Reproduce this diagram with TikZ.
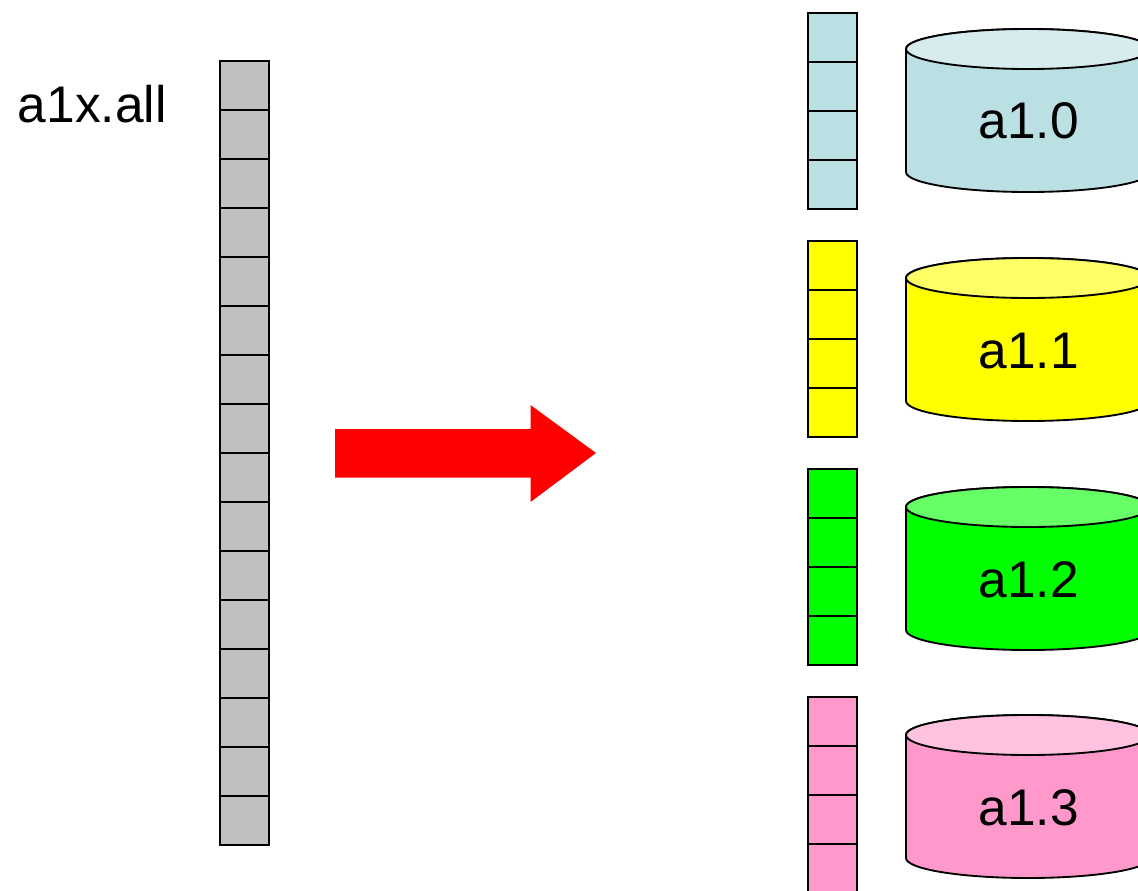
\documentclass[tikz,border=0pt]{standalone}
\usepackage{fontspec}
\setmainfont{Liberation Sans}
\definecolor{teal1}{HTML}{BBE0E3}
\definecolor{teal2}{HTML}{D6ECEE}
\definecolor{yel1}{HTML}{FFFF00}
\definecolor{yel2}{HTML}{FFFF66}
\definecolor{grn1}{HTML}{00FF00}
\definecolor{grn2}{HTML}{66FF66}
\definecolor{pnk1}{HTML}{FF99CC}
\definecolor{pnk2}{HTML}{FFC2E0}
\definecolor{cellgray}{HTML}{C0C0C0}
\tikzset{
  x=0.75pt,y=-0.75pt,
  outline/.style={draw=black,line width=1.4pt,line join=miter},
  celltext/.style={font=\fontsize{38.6pt}{46pt}\selectfont,inner sep=0pt,anchor=base},
}
\newcommand{\cellstack}[5]{% name, x left, y top, count, colour
  \foreach \i in {1,...,#4}{
    \path[outline,fill=#5] (#2,{#3+49*(\i-1)}) rectangle (#2+49,{#3+49*\i});
  }
  \coordinate (#1) at (#2,#3);
}
\newcommand{\drum}[5]{% name, y of top ellipse centre, body colour, top colour, label
  \path[outline,fill=#3] (906,#2) -- (906,#2+123) arc[start angle=180,end angle=0,x radius=122,y radius=20]
    -- (1150,#2) arc[start angle=0,end angle=-180,x radius=122,y radius=20] -- cycle;
  \path[outline,fill=#4] (1028,#2) ellipse[x radius=122,y radius=20];
  \node[celltext] (#1) at (1028.7,#2+90) {#5};
}
\begin{document}
\begin{tikzpicture}
\useasboundingbox (0,0) rectangle (1138,891);
\clip (0,0) rectangle (1138,891);
\node[celltext,anchor=base west] (allname) at (17.7,123) {a1x.all};
\cellstack{allcells}{219.7}{61.2}{16}{cellgray}
\path[fill=red] (335,429) -- (530.5,429) -- (530.5,405) -- (596,453) -- (530.5,502) -- (530.5,477.5) -- (335,477.5) -- cycle;
\cellstack{stackzero}{807.7}{12.6}{4}{teal1}
\cellstack{stackone}{807.7}{240.7}{4}{yel1}
\cellstack{stacktwo}{807.7}{468.7}{4}{grn1}
\cellstack{stackthree}{807.7}{696.7}{4}{pnk1}
\drum{drumzero}{49}{teal1}{teal2}{a1.0}
\drum{drumone}{278}{yel1}{yel2}{a1.1}
\drum{drumtwo}{507}{grn1}{grn2}{a1.2}
\drum{drumthree}{735}{pnk1}{pnk2}{a1.3}
\end{tikzpicture}
\end{document}
